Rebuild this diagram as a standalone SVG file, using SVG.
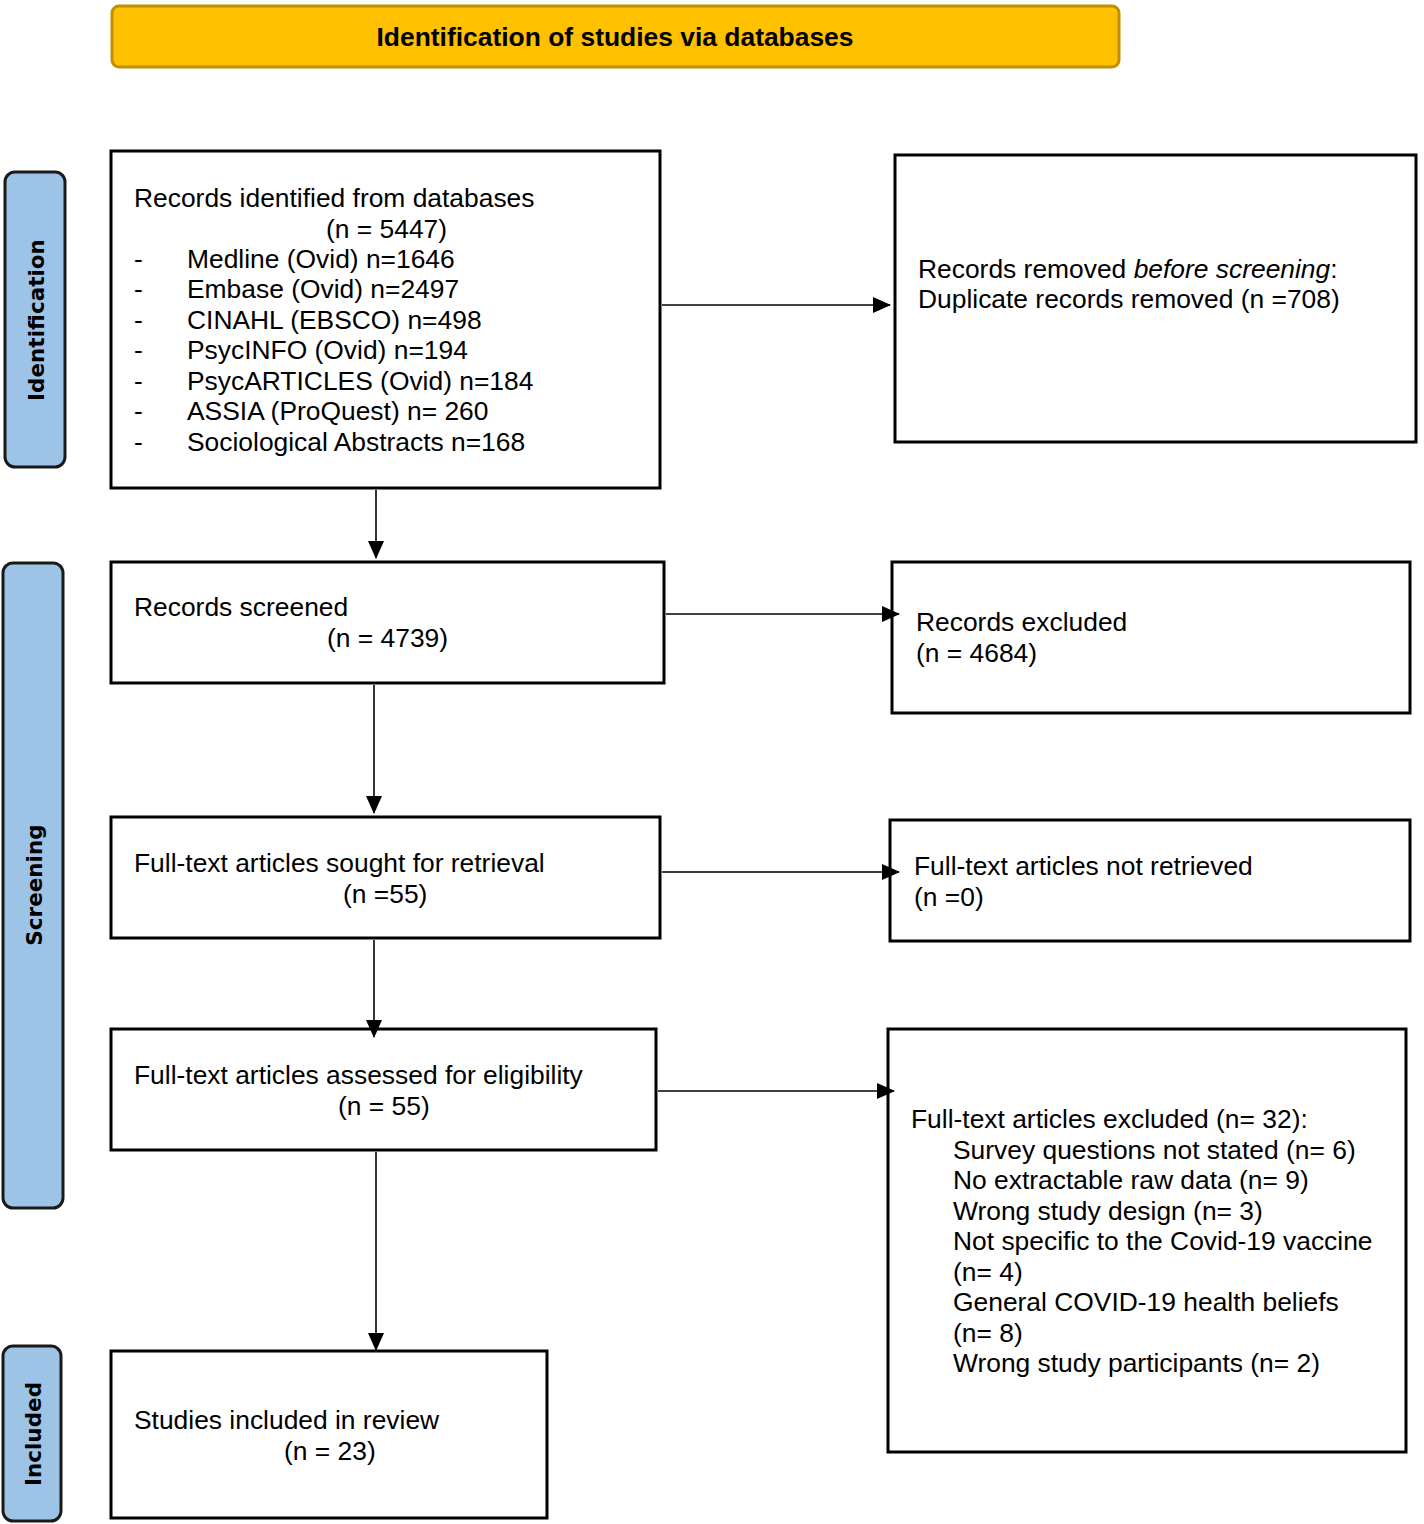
<svg xmlns="http://www.w3.org/2000/svg" width="1424" height="1524" viewBox="0 0 1424 1524">
<style>
.box{fill:#fff;stroke:#000;stroke-width:3}
.side{fill:#9DC3E6;stroke:#1a1a1a;stroke-width:3}
.t{font-family:"Liberation Sans",Arial,sans-serif;font-size:26.4px;fill:#000}
.sl{font-family:"DejaVu Sans",Verdana,sans-serif;font-size:21.5px;font-weight:bold;fill:#000;text-anchor:middle}
.conn{stroke:#000;stroke-width:1.6;fill:none;marker-end:url(#ah)}
</style>
<defs>
<marker id="ah" markerWidth="18" markerHeight="16" refX="17" refY="8" orient="auto" markerUnits="userSpaceOnUse">
<path d="M0,0 L18,8 L0,16 Z" fill="#000"/>
</marker>
</defs>
<rect width="1424" height="1524" fill="#fff"/>
<g id="title">
<rect x="112" y="6" width="1007" height="61" rx="7" fill="#FFC000" stroke="#BF9000" stroke-width="3"/>
<text x="615" y="46" style="font-family:'Liberation Sans',Arial,sans-serif;font-size:26px;font-weight:bold;text-anchor:middle" textLength="477" lengthAdjust="spacingAndGlyphs">Identification of studies via databases</text>
</g>
<g id="side-identification">
<rect x="5" y="172" width="60" height="295" rx="10" class="side"/>
<text class="sl" transform="translate(44,320) rotate(-90)">Identification</text>
</g>
<g id="side-screening">
<rect x="3" y="563" width="60" height="645" rx="10" class="side"/>
<text class="sl" transform="translate(42,885) rotate(-90)">Screening</text>
</g>
<g id="side-included">
<rect x="3" y="1346" width="58" height="175" rx="10" class="side"/>
<text class="sl" transform="translate(41,1434) rotate(-90)">Included</text>
</g>
<g id="records-identified">
<rect x="111" y="151" width="549" height="337" class="box"/>
<text class="t" x="134" y="207">Records identified from databases</text>
<text class="t" x="326" y="238">(n = 5447)</text>
<text class="t" x="134" y="268">-</text><text class="t" x="187" y="268">Medline (Ovid) n=1646</text>
<text class="t" x="134" y="298">-</text><text class="t" x="187" y="298">Embase (Ovid) n=2497</text>
<text class="t" x="134" y="329">-</text><text class="t" x="187" y="329">CINAHL (EBSCO) n=498</text>
<text class="t" x="134" y="359">-</text><text class="t" x="187" y="359">PsycINFO (Ovid) n=194</text>
<text class="t" x="134" y="390">-</text><text class="t" x="187" y="390">PsycARTICLES (Ovid) n=184</text>
<text class="t" x="134" y="420">-</text><text class="t" x="187" y="420">ASSIA (ProQuest) n= 260</text>
<text class="t" x="134" y="451">-</text><text class="t" x="187" y="451">Sociological Abstracts n=168</text>
</g>
<g id="records-removed">
<rect x="895" y="155" width="521" height="287" class="box"/>
<text class="t" x="918" y="278">Records removed <tspan font-style="italic">before screening</tspan>:</text>
<text class="t" x="918" y="308">Duplicate records removed (n =708)</text>
</g>
<g id="records-screened">
<rect x="111" y="562" width="553" height="121" class="box"/>
<text class="t" x="134" y="616">Records screened</text>
<text class="t" x="327" y="647">(n = 4739)</text>
</g>
<g id="records-excluded">
<rect x="892" y="562" width="518" height="151" class="box"/>
<text class="t" x="916" y="631">Records excluded</text>
<text class="t" x="916" y="662">(n = 4684)</text>
</g>
<g id="sought-retrieval">
<rect x="111" y="817" width="549" height="121" class="box"/>
<text class="t" x="134" y="872">Full-text articles sought for retrieval</text>
<text class="t" x="343" y="903">(n =55)</text>
</g>
<g id="not-retrieved">
<rect x="890" y="820" width="520" height="121" class="box"/>
<text class="t" x="914" y="875">Full-text articles not retrieved</text>
<text class="t" x="914" y="906">(n =0)</text>
</g>
<g id="assessed">
<rect x="111" y="1029" width="545" height="121" class="box"/>
<text class="t" x="134" y="1084">Full-text articles assessed for eligibility</text>
<text class="t" x="338" y="1115">(n = 55)</text>
</g>
<g id="fulltext-excluded">
<rect x="888" y="1029" width="518" height="423" class="box"/>
<text class="t" x="911" y="1128">Full-text articles excluded (n= 32):</text>
<text class="t" x="953" y="1159">Survey questions not stated (n= 6)</text>
<text class="t" x="953" y="1189">No extractable raw data (n= 9)</text>
<text class="t" x="953" y="1220">Wrong study design (n= 3)</text>
<text class="t" x="953" y="1250">Not specific to the Covid-19 vaccine</text>
<text class="t" x="953" y="1281">(n= 4)</text>
<text class="t" x="953" y="1311">General COVID-19 health beliefs</text>
<text class="t" x="953" y="1342">(n= 8)</text>
<text class="t" x="953" y="1372">Wrong study participants (n= 2)</text>
</g>
<g id="included">
<rect x="111" y="1351" width="436" height="167" class="box"/>
<text class="t" x="134" y="1429">Studies included in review</text>
<text class="t" x="284" y="1460">(n = 23)</text>
</g>
<g id="connectors">
<line class="conn" x1="376" y1="490" x2="376" y2="558"/>
<line class="conn" x1="374" y1="685" x2="374" y2="813"/>
<line class="conn" x1="374" y1="940" x2="374" y2="1037"/>
<line class="conn" x1="376" y1="1152" x2="376" y2="1350"/>
<line class="conn" x1="662" y1="305" x2="890" y2="305"/>
<line class="conn" x1="666" y1="614" x2="899" y2="614"/>
<line class="conn" x1="662" y1="872" x2="899" y2="872"/>
<line class="conn" x1="658" y1="1091" x2="894" y2="1091"/>
</g>
</svg>
